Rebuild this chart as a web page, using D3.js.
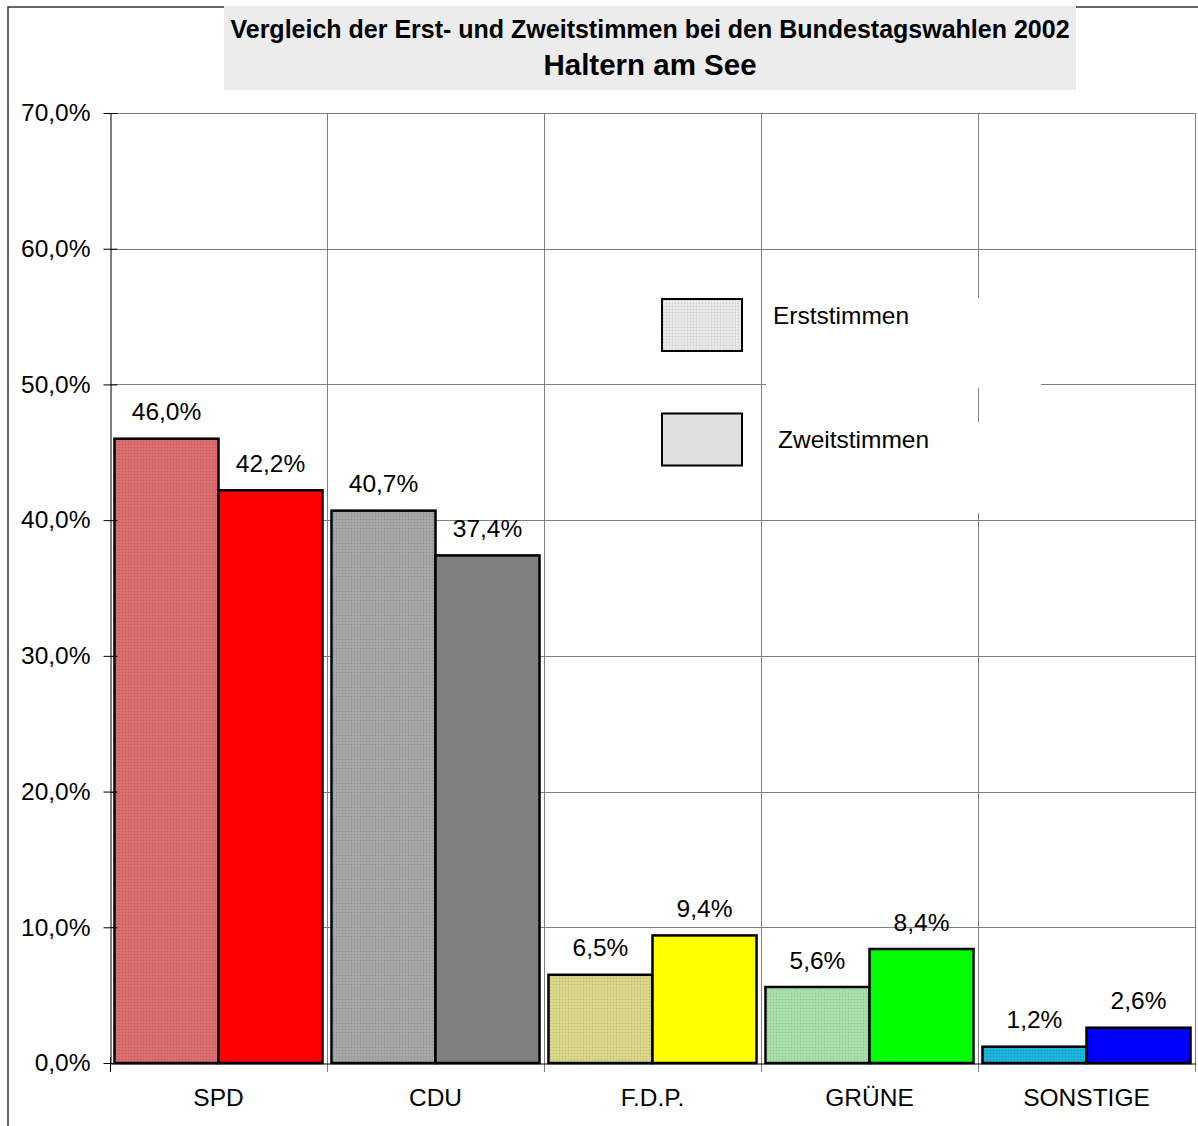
<!DOCTYPE html>
<html>
<head>
<meta charset="utf-8">
<script src="https://cdn.jsdelivr.net/npm/d3@7"></script>
<style>
  body { margin: 0; background: #fff; }
  text { font-family: Arial, "Liberation Sans", sans-serif; fill: #000; }
</style>
</head>
<body>
<div id="chart"></div>
<script>
var parteien = ["SPD", "CDU", "F.D.P.", "GRÜNE", "SONSTIGE"];
var serien = ["Erststimmen", "Zweitstimmen"];
var erststimmen = [46.0, 40.7, 6.5, 5.6, 1.2];
var zweitstimmen = [42.2, 37.4, 9.4, 8.4, 2.6];
var farbenErst = ["#d86c6c", "#a4a4a4", "#d6d286", "#a6dca6", "#1cb0d8"];
var farbenZweit = ["#ff0000", "#808080", "#ffff00", "#00ff00", "#0000ff"];
var yTicks = [0, 10, 20, 30, 40, 50, 60, 70];

var width = 1198;
var height = 1126;
var plotLeft = 110, plotRight = 1195, plotTop = 113, plotBottom = 1063;
var fontSize = "24.5px";

var de = d3.formatLocale({decimal: ",", thousands: ".", grouping: [3], currency: ["", " €"]});
var fmt = function(v) { return de.format(".1f")(v) + "%"; };

var svg = d3.select("#chart").append("svg")
  .attr("width", width)
  .attr("height", height);

/* dotted patterns for the Erststimmen bars */
var defs = svg.append("defs");
function dotPattern(id, color) {
  var p = defs.append("pattern")
    .attr("id", id)
    .attr("width", 3).attr("height", 3)
    .attr("patternUnits", "userSpaceOnUse");
  p.append("rect").attr("width", 3).attr("height", 3).attr("fill", color);
  p.append("rect").attr("width", 1).attr("height", 1)
    .attr("fill", d3.color(color).darker(0.35));
  p.append("rect").attr("x", 1.5).attr("y", 1.5).attr("width", 1).attr("height", 1)
    .attr("fill", d3.color(color).brighter(0.25));
}
farbenErst.forEach(function(c, i) { dotPattern("dots" + i, c); });
dotPattern("dotsLegend", "#e4e4e4");

/* Scale */
var x0 = d3.scaleBand().domain(parteien).range([plotLeft, plotRight]);
var x1 = d3.scaleBand().domain(serien).range([0, x0.bandwidth()]).paddingOuter(0.043);
var y = d3.scaleLinear().domain([0, 70]).range([plotBottom, plotTop]);

/* outer frame */
svg.append("path")
  .attr("d", `M8,${height} V7 H${width}`)
  .attr("fill", "none")
  .attr("stroke", "#333")
  .attr("stroke-width", 1.5);

/* title box */
svg.append("rect")
  .attr("x", 224).attr("y", 6)
  .attr("width", 852).attr("height", 84)
  .attr("fill", "#ececec");
svg.append("text")
  .attr("x", 650).attr("y", 38)
  .attr("text-anchor", "middle")
  .style("font-size", "25px").style("font-weight", "bold")
  .text("Vergleich der Erst- und Zweitstimmen bei den Bundestagswahlen 2002");
svg.append("text")
  .attr("x", 650).attr("y", 75)
  .attr("text-anchor", "middle")
  .style("font-size", "29.5px").style("font-weight", "bold")
  .text("Haltern am See");

/* grid */
var grid = svg.append("g").attr("stroke", "#808080").attr("stroke-width", 1);
grid.selectAll(".hgrid")
  .data(yTicks.slice(1)).enter()
  .append("line")
  .attr("x1", plotLeft).attr("x2", plotRight)
  .attr("y1", d => Math.round(y(d)) + 0.5).attr("y2", d => Math.round(y(d)) + 0.5);
grid.selectAll(".vgrid")
  .data(parteien).enter()
  .append("line")
  .attr("x1", d => Math.round(x0(d) + x0.step()) + 0.5)
  .attr("x2", d => Math.round(x0(d) + x0.step()) + 0.5)
  .attr("y1", plotTop).attr("y2", plotBottom + 9);

/* legend (white label boxes break the grid) */
var legend = svg.append("g");
legend.append("rect").attr("x", 766).attr("y", 298).attr("width", 275).attr("height", 90).attr("fill", "#fff");
legend.append("rect").attr("x", 766).attr("y", 422).attr("width", 275).attr("height", 91).attr("fill", "#fff");
legend.selectAll(".sw")
  .data(serien).enter()
  .append("rect")
  .attr("x", 662).attr("y", (d, i) => 299 + i * 114.5)
  .attr("width", 80).attr("height", 52)
  .attr("fill", (d, i) => i == 0 ? "url(#dotsLegend)" : "#e0e0e0")
  .attr("stroke", "#000").attr("stroke-width", 2);
legend.selectAll(".lt")
  .data(serien).enter()
  .append("text")
  .attr("x", (d, i) => i == 0 ? 773 : 778)
  .attr("y", (d, i) => i == 0 ? 324 : 448)
  .style("font-size", fontSize)
  .text(d => d);

/* bars */
var groups = svg.append("g").selectAll("g")
  .data(parteien).enter()
  .append("g")
  .attr("transform", d => `translate(${x0(d)},0)`);

groups.selectAll("rect")
  .data((d, i) => [
    {serie: "Erststimmen", wert: erststimmen[i], fill: "url(#dots" + i + ")"},
    {serie: "Zweitstimmen", wert: zweitstimmen[i], fill: farbenZweit[i]}
  ]).enter()
  .append("rect")
  .attr("x", d => x1(d.serie))
  .attr("y", d => y(d.wert))
  .attr("width", x1.bandwidth())
  .attr("height", d => plotBottom - y(d.wert))
  .attr("fill", d => d.fill)
  .attr("stroke", "#000")
  .attr("stroke-width", 2.5);

groups.selectAll("text")
  .data((d, i) => [
    {serie: "Erststimmen", wert: erststimmen[i]},
    {serie: "Zweitstimmen", wert: zweitstimmen[i]}
  ]).enter()
  .append("text")
  .attr("x", d => x1(d.serie) + x1.bandwidth() / 2)
  .attr("y", d => y(d.wert) - 18.5)
  .attr("text-anchor", "middle")
  .style("font-size", fontSize)
  .text(d => fmt(d.wert));

/* plot border top/right */
svg.append("path")
  .attr("d", `M${plotLeft},${plotTop + 0.5} H${plotRight + 0.5} V${plotBottom}`)
  .attr("fill", "none")
  .attr("stroke", "#808080");

/* Axis */
var yAxis = d3.axisLeft(y).tickValues(yTicks).tickSize(0).tickPadding(20).tickFormat(fmt);
var ya = svg.append("g")
  .attr("transform", `translate(${plotLeft + 0.5},0)`)
  .call(yAxis);
ya.select(".domain").attr("stroke", "#000");
ya.selectAll(".tick line").attr("x1", -7).attr("x2", 7).attr("stroke", "#000");
ya.selectAll(".tick text").style("font-size", fontSize).attr("fill", "#000").attr("font-family", null);

var xAxis = d3.axisBottom(x0).tickSize(0).tickPadding(25);
var xa = svg.append("g")
  .attr("transform", `translate(0,${plotBottom + 0.5})`)
  .call(xAxis);
xa.select(".domain").attr("stroke", "#000");
xa.selectAll(".tick text").style("font-size", fontSize).attr("fill", "#000").attr("font-family", null);
svg.append("line")
  .attr("x1", plotLeft + 0.5).attr("x2", plotLeft + 0.5)
  .attr("y1", plotBottom - 6).attr("y2", plotBottom + 9)
  .attr("stroke", "#000");
</script>
</body>
</html>
